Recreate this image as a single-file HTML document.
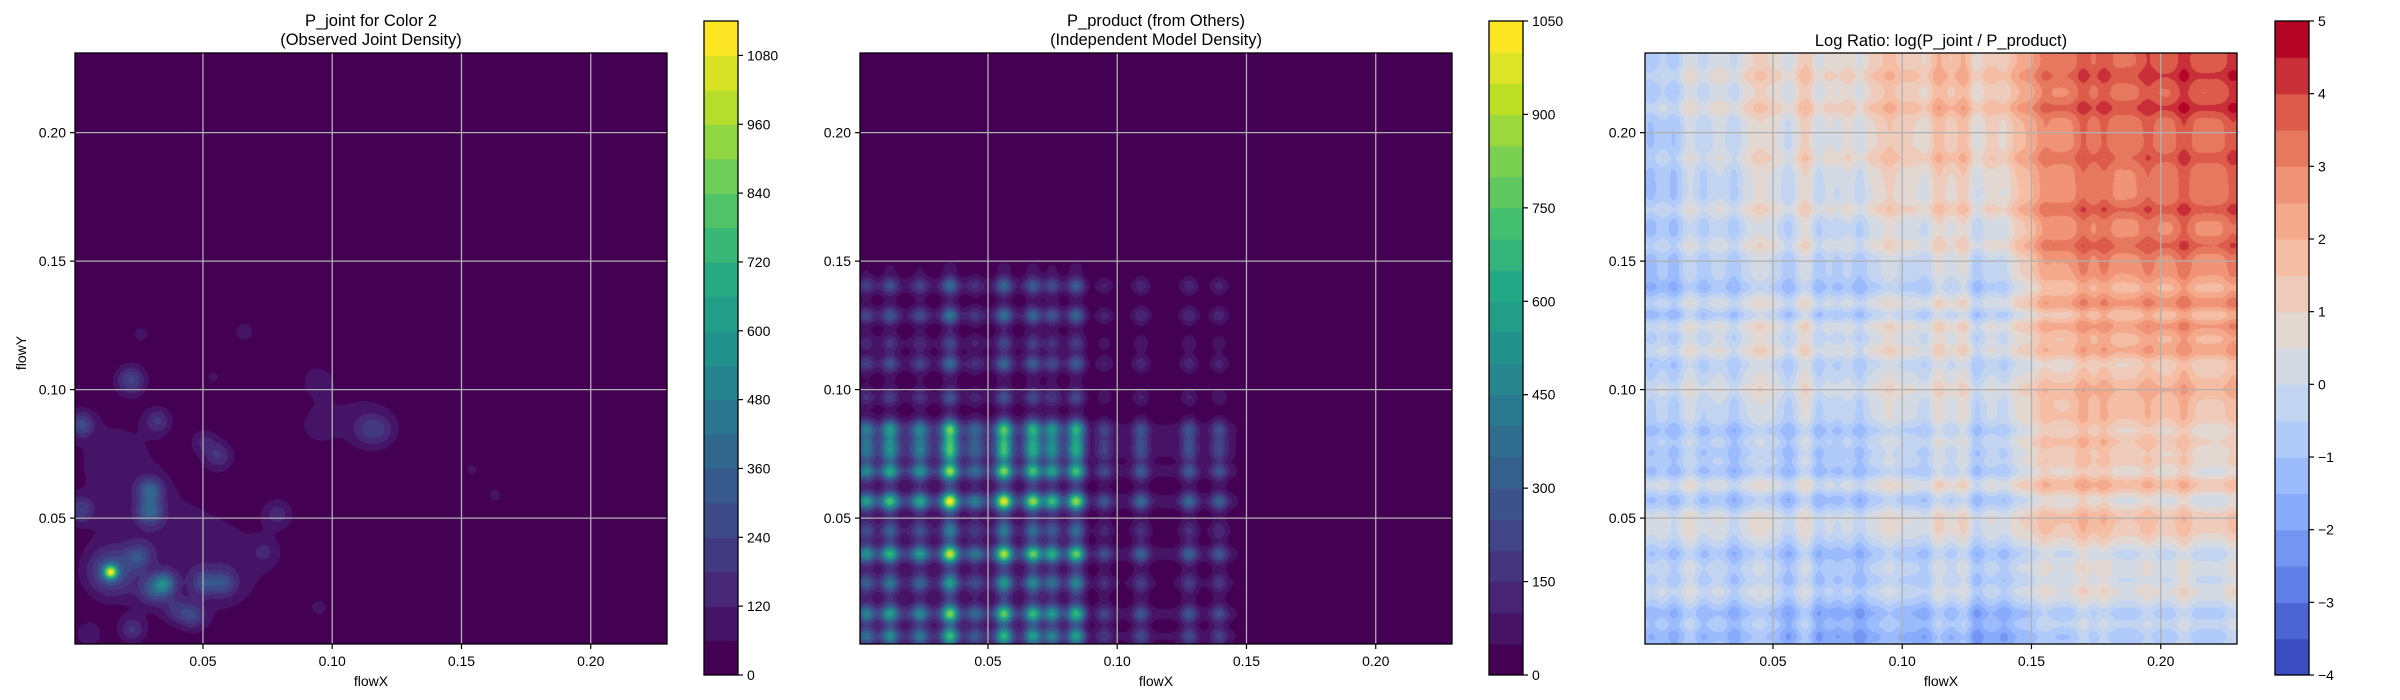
<!DOCTYPE html>
<html><head><meta charset="utf-8">
<style>
body{margin:0;background:#fff;width:2400px;height:700px;overflow:hidden;font-family:"Liberation Sans",sans-serif;}
canvas{position:absolute;}
svg{position:absolute;left:0;top:0;}
</style></head>
<body>
<canvas id="c1" width="592" height="591" style="left:75px;top:53px"></canvas>
<canvas id="c2" width="592" height="591" style="left:860px;top:53px"></canvas>
<canvas id="c3" width="592" height="591" style="left:1645px;top:53px"></canvas>
<canvas id="cb1" width="34" height="654" style="left:704px;top:21px"></canvas>
<canvas id="cb2" width="34" height="654" style="left:1489px;top:21px"></canvas>
<canvas id="cb3" width="34" height="654" style="left:2275px;top:21px"></canvas>
<svg id="ov" width="2400" height="700"></svg>
<script>
// ---- data ----
const axisTicks = [0.05, 0.10, 0.15, 0.20];
const axisTickLabels = ["0.05", "0.10", "0.15", "0.20"];
const xDomain = [0.0005, 0.2295];
const yDomain = [0.001, 0.231];
// panel 1: joint density blobs
const blobX = [0.0143,0.0143,0.035,0.0306,0.0296,0.0296,0.0222,0.0028,0.0028,0.025,0.0325,0.056,0.0504,0.0504,0.058,0.046,0.0395,0.0226,0.0058,0.079,0.074,0.1135,0.119,0.094,0.066,0.026,0.095,0.163,0.154,0.054,0.094,0.03,0.015,0.06,0.11];
const blobY = [0.029,0.029,0.0244,0.022,0.0607,0.0524,0.1038,0.0865,0.0533,0.035,0.0879,0.0744,0.080,0.0247,0.0247,0.0118,0.0144,0.0066,0.0048,0.0516,0.037,0.0844,0.0844,0.1035,0.1225,0.1216,0.0152,0.059,0.0689,0.105,0.086,0.04,0.075,0.03,0.09];
const blobAmp = [800,280,380,220,300,300,240,240,200,200,170,170,110,200,200,200,140,170,110,140,90,110,110,80,80,70,70,75,70,65,65,85,70,70,60];
const blobSig = [0.0018,0.006,0.003,0.004,0.0035,0.0035,0.004,0.0035,0.0035,0.0035,0.0035,0.004,0.0035,0.0035,0.0035,0.0035,0.0035,0.0035,0.0035,0.004,0.004,0.0045,0.0045,0.005,0.004,0.004,0.004,0.003,0.003,0.004,0.006,0.02,0.014,0.015,0.012];
// panel 2: marginals
const pxCenters = [0.003,0.0121,0.0237,0.0353,0.045,0.0562,0.0674,0.0748,0.0841,0.095,0.1092,0.1278,0.1394];
const pxAmps = [0.45,0.65,0.5,1.0,0.3,0.95,0.8,0.6,0.8,0.25,0.35,0.35,0.3];
const pyCenters = [0.004,0.0127,0.0247,0.036,0.045,0.0565,0.0682,0.0752,0.0794,0.0845,0.097,0.1101,0.118,0.1288,0.1404];
const pyAmps = [0.6,0.75,0.45,0.9,0.3,1.0,0.8,0.55,0.5,0.7,0.25,0.35,0.2,0.4,0.35];
const pxBaseKnots = [0,0.086,0.09,0.145,0.15,0.23];
const pxBaseVals = [0.25,0.25,0.1,0.1,0,0];
const pyBaseKnots = [0,0.088,0.092,0.148,0.152,0.23];
const pyBaseVals = [0.25,0.25,0.1,0.1,0,0];
const productPeak = 1040;
// panel 3: log ratio
const ratioGridX = [0,0.04,0.09,0.135,0.16,0.2,0.23];
const ratioGridY = [0,0.03,0.08,0.11,0.15,0.19,0.23];
const ratioGrid = [
 [-0.6,-0.6,-1.2,-1.2,-0.6,-0.4,-0.3],
 [0.2,-0.1,-0.3,-0.1,0.4,0.3,0.2],
 [-0.1,-0.1,0.1,0.2,1.8,1.6,1.0],
 [-0.2,0.3,0.2,0.1,1.0,1.5,1.5],
 [-0.8,-0.1,-0.2,0.0,2.5,2.8,2.7],
 [-0.7,0.4,0.9,1.1,2.7,3.1,3.2],
 [-0.5,0.8,1.2,1.5,3.0,3.6,3.7]];
const colModCenters = [0.003,0.0118,0.018,0.023,0.035,0.045,0.056,0.063,0.0675,0.075,0.0835,0.095,0.109,0.114,0.124,0.1287,0.1396,0.155,0.17,0.178,0.195,0.209,0.228];
const colModAmps = [-0.5,-0.7,0.4,-0.5,-0.8,0.4,-0.8,0.6,-0.8,-0.5,-0.8,0.5,-0.4,0.7,0.7,-0.8,-0.6,0.5,0.7,0.6,0.5,0.7,0.6];
const rowModCenters = [0.004,0.0131,0.022,0.025,0.036,0.045,0.05,0.057,0.063,0.068,0.0754,0.084,0.1,0.11,0.115,0.125,0.129,0.133,0.1398,0.156,0.17,0.19,0.2095,0.222];
const rowModAmps = [-0.6,-0.7,0.5,-0.4,-0.7,0.5,0.6,-0.7,0.6,-0.7,-0.5,-0.7,0.5,-0.4,0.6,0.7,-0.7,0.6,-0.6,0.7,0.7,0.5,0.7,0.5];
const cb1Ticks = [0,120,240,360,480,600,720,840,960,1080];
const cb2Ticks = [0,150,300,450,600,750,900,1050];
const cb3Ticks = [-4,-3,-2,-1,0,1,2,3,4,5];
const cb3Labels = ["\u22124","\u22123","\u22122","\u22121","0","1","2","3","4","5"];

// ---- helpers ----
const W=592,H=591,PY0=53,PY1=644;
const panels=[75,860,1645];
function sx(x0,v){return x0+(v-xDomain[0])/(xDomain[1]-xDomain[0])*W;}
function sy(v){return PY1-(v-yDomain[0])/(yDomain[1]-yDomain[0])*H;}
function dx(px){return xDomain[0]+(px+0.5)/W*(xDomain[1]-xDomain[0]);}
function dy(py){return yDomain[1]-(py+0.5)/H*(yDomain[1]-yDomain[0]);}
function lerpCmap(stops,t){t=Math.max(0,Math.min(1,t));const n=stops.length-1;let i=Math.min(n-1,Math.floor(t*n));const f=t*n-i;const a=stops[i],b=stops[i+1];return [0,1,2].map(k=>Math.round(a[k]+(b[k]-a[k])*f));}
const viridis=[[68,1,84],[72,36,117],[65,68,135],[53,95,141],[42,120,142],[33,145,140],[34,168,132],[68,191,112],[122,209,81],[189,223,38],[253,231,37]];
const coolwarm=[[59,76,192],[98,130,234],[141,176,254],[184,208,249],[221,221,221],[245,196,173],[244,154,123],[222,96,77],[180,4,38]];
function interp1(kn,vals,x){if(x<=kn[0])return vals[0];for(let i=0;i<kn.length-1;i++){if(x<=kn[i+1]){const f=(x-kn[i])/(kn[i+1]-kn[i]);return vals[i]+(vals[i+1]-vals[i])*f;}}return vals[vals.length-1];}
function gsum(c,a,s,x){let v=0;for(let i=0;i<c.length;i++){const d=(x-c[i])/s;v+=a[i]*Math.exp(-0.5*d*d);}return v;}
function paint(id,fn,lo,step,nb,cmap){
 const cv=document.getElementById(id),ctx=cv.getContext('2d'),img=ctx.createImageData(W,H);
 const cols=[];for(let i=0;i<nb;i++)cols.push(lerpCmap(cmap,i/(nb-1)));
 for(let py=0;py<H;py++){for(let px=0;px<W;px++){let b=Math.floor((fn(px,py)-lo)/step);b=Math.max(0,Math.min(nb-1,b));const c=cols[b],o=(py*W+px)*4;img.data[o]=c[0];img.data[o+1]=c[1];img.data[o+2]=c[2];img.data[o+3]=255;}}
 ctx.putImageData(img,0,0);
}
function paintCb(id,nb,cmap){const cv=document.getElementById(id),ctx=cv.getContext('2d');const h=654/nb;for(let i=0;i<nb;i++){const c=lerpCmap(cmap,i/(nb-1));ctx.fillStyle=`rgb(${c[0]},${c[1]},${c[2]})`;ctx.fillRect(0,654-(i+1)*h,34,h+0.6);}}

// panel 1
const X=[],Y=[];for(let i=0;i<W;i++)X.push(dx(i));for(let j=0;j<H;j++)Y.push(dy(j));
paint('c1',(px,py)=>{const x=X[px],y=Y[py];let v=0;for(let i=0;i<blobX.length;i++){const a=(x-blobX[i])/blobSig[i],b=(y-blobY[i])/blobSig[i];const q=a*a+b*b;if(q<40)v+=blobAmp[i]*Math.exp(-0.5*q);}return v;},0,60,19,viridis);
// panel 2
const PX=X.map(x=>gsum(pxCenters,pxAmps,0.0022,x)+interp1(pxBaseKnots,pxBaseVals,x));
const PYv=Y.map(y=>gsum(pyCenters,pyAmps,0.0022,y)+interp1(pyBaseKnots,pyBaseVals,y));
const mP=Math.max(...PX)*Math.max(...PYv);
paint('c2',(px,py)=>productPeak*PX[px]*PYv[py]/mP,0,50,21,viridis);
// panel 3
const CM=X.map(x=>gsum(colModCenters,colModAmps,0.0022,x));
const RM=Y.map(y=>gsum(rowModCenters,rowModAmps,0.0022,y));
function base(x,y){let i=0;while(i<ratioGridX.length-2&&x>ratioGridX[i+1])i++;let j=0;while(j<ratioGridY.length-2&&y>ratioGridY[j+1])j++;
 const fx=Math.max(0,Math.min(1,(x-ratioGridX[i])/(ratioGridX[i+1]-ratioGridX[i]))),fy=Math.max(0,Math.min(1,(y-ratioGridY[j])/(ratioGridY[j+1]-ratioGridY[j])));
 const a=ratioGrid[j][i],b=ratioGrid[j][i+1],c=ratioGrid[j+1][i],d=ratioGrid[j+1][i+1];return (a*(1-fx)+b*fx)*(1-fy)+(c*(1-fx)+d*fx)*fy;}
paint('c3',(px,py)=>base(X[px],Y[py])+CM[px]+RM[py],-4,0.5,18,coolwarm);
paintCb('cb1',19,viridis);paintCb('cb2',21,viridis);paintCb('cb3',18,coolwarm);

// ---- overlay ----
const NS='http://www.w3.org/2000/svg',ov=document.getElementById('ov');
function mk(tag,attrs,parent){const e=document.createElementNS(NS,tag);for(const k in attrs)e.setAttribute(k,attrs[k]);(parent||ov).appendChild(e);return e;}
function txt(s,x,y,size,anchor,name){const t=mk('text',{x:x,y:y,'font-size':size,'text-anchor':anchor,fill:'#000','font-family':'Liberation Sans, sans-serif'});t.textContent=s;


return t;}
const titles=[["P_joint for Color 2","(Observed Joint Density)"],["P_product (from Others)","(Independent Model Density)"],["Log Ratio: log(P_joint / P_product)"]];
panels.forEach((x0,pi)=>{
 const g=mk('g',{});
 
 
 axisTicks.forEach((v,k)=>{
  const gx=mk('line',{x1:sx(x0,v),x2:sx(x0,v),y1:PY0,y2:PY1,stroke:'#b0b0b0','stroke-width':1.3},g);
  
  
  const gy=mk('line',{x1:x0,x2:x0+W,y1:sy(v),y2:sy(v),stroke:'#b0b0b0','stroke-width':1.3},g);
  
  
  mk('line',{x1:sx(x0,v),x2:sx(x0,v),y1:PY1,y2:PY1+5,stroke:'#000','stroke-width':1.2},g);
  mk('line',{x1:x0-5,x2:x0,y1:sy(v),y2:sy(v),stroke:'#000','stroke-width':1.2},g);
  txt(axisTickLabels[k],sx(x0,v),PY1+22,14,'middle','x-tick-label');
  txt(axisTickLabels[k],x0-9,sy(v)+5,14,'end','y-tick-label');
 });
 const fr=mk('rect',{x:x0,y:PY0,width:W,height:H,fill:'none',stroke:'#000','stroke-width':1.3},g);
 
 
 txt('flowX',x0+W/2,686,14,'middle','x-axis-title');
 const t=titles[pi];
 if(t.length==2){txt(t[0],x0+W/2,26,16.5,'middle','chart-title');txt(t[1],x0+W/2,45,16.5,'middle','chart-subtitle');}
 else txt(t[0],x0+W/2,46,16.5,'middle','chart-title');
});
const yl=txt('flowY',0,0,14,'middle','y-axis-title');yl.setAttribute('transform','translate(26,353) rotate(-90)');
function cbAxis(x0,ticks,labels,lo,hi){
 ticks.forEach((v,k)=>{const y=675-(v-lo)/(hi-lo)*654;
  mk('line',{x1:x0+34,x2:x0+39,y1:y,y2:y,stroke:'#000','stroke-width':1.2});
  txt(labels[k],x0+43,y+5,14,'start','colorbar-tick-label');});
 const r=mk('rect',{x:x0,y:21,width:34,height:654,fill:'none',stroke:'#000','stroke-width':1.3});
 
 
}
cbAxis(704,cb1Ticks,cb1Ticks.map(String),0,1140);
cbAxis(1489,cb2Ticks,cb2Ticks.map(String),0,1050);
cbAxis(2275,cb3Ticks,cb3Labels,-4,5);
</script>
</body></html>
